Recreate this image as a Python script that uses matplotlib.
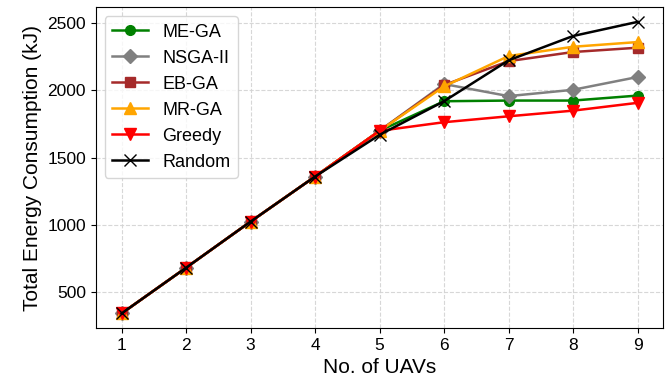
import matplotlib
matplotlib.use("Agg")
import matplotlib.pyplot as plt

plt.rcParams['font.family'] = ['Liberation Sans', 'DejaVu Sans']

uavs = [1, 2, 3, 4, 5, 6, 7, 8, 9]
me_ga = [342, 682, 1025, 1360, 1700, 1920, 1925, 1925, 1962]
nsga2 = [342, 682, 1025, 1360, 1700, 2048, 1958, 2005, 2100]
eb_ga = [342, 682, 1025, 1360, 1700, 2040, 2218, 2286, 2318]
mr_ga = [342, 682, 1025, 1360, 1700, 2030, 2256, 2325, 2360]
greedy = [342, 682, 1025, 1360, 1700, 1764, 1808, 1850, 1908]
rand = [342, 682, 1025, 1360, 1670, 1920, 2224, 2405, 2510]

fig = plt.figure(figsize=(6.7, 3.85), dpi=100)
ax = fig.add_axes([0.143, 0.148, 0.847, 0.833])

ax.plot(uavs, me_ga, color='green', marker='o', lw=1.8, ms=7, label='ME-GA')
ax.plot(uavs, nsga2, color='gray', marker='D', lw=1.8, ms=7, label='NSGA-II')
ax.plot(uavs, eb_ga, color='brown', marker='s', lw=1.8, ms=7, label='EB-GA')
ax.plot(uavs, mr_ga, color='orange', marker='^', lw=1.8, ms=8, label='MR-GA')
ax.plot(uavs, greedy, color='red', marker='v', lw=1.8, ms=8, label='Greedy')
ax.plot(uavs, rand, color='black', marker='x', lw=1.8, ms=8, label='Random')

ax.set_xticks(uavs)
ax.set_yticks([500, 1000, 1500, 2000, 2500])
ax.tick_params(labelsize=12.5)
ax.set_xlabel('No. of UAVs', fontsize=15)
ax.set_ylabel('Total Energy Consumption (kJ)', fontsize=15)
ax.grid(True, linestyle='--', color='lightgray', alpha=0.9)
ax.legend(loc='upper left', fontsize=13)

fig.savefig('out.png', dpi=100)
